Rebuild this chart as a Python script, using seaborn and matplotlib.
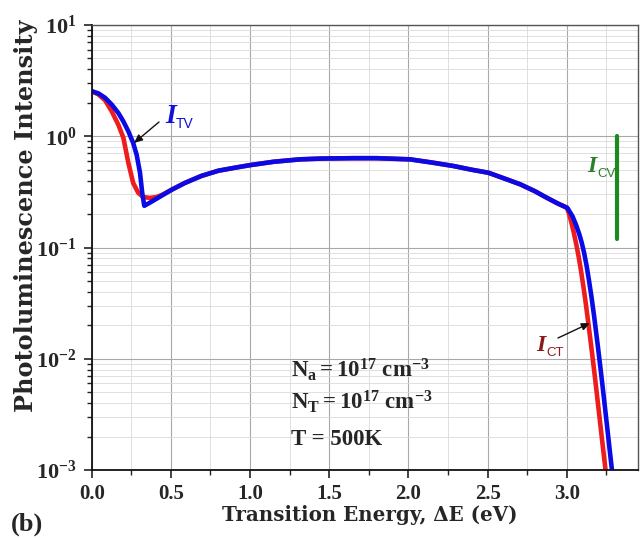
import matplotlib
matplotlib.use("Agg")
import matplotlib.pyplot as plt
import numpy as np
import pandas as pd
import seaborn as sns
from matplotlib.ticker import MultipleLocator, LogLocator, FixedLocator, FixedFormatter, NullFormatter

# ---------------- data ----------------
tv_energy = [0.0, 0.042, 0.084, 0.126, 0.168, 0.2, 0.231, 0.262, 0.284, 0.305,
             0.319, 0.332, 0.357, 0.42, 0.504, 0.588, 0.693, 0.8, 0.9, 1.0,
             1.15, 1.316, 1.45, 1.65, 1.8, 2.01, 2.15, 2.285, 2.4, 2.505,
             2.6, 2.706, 2.8, 2.874, 2.94, 3.005, 3.037, 3.06, 3.079, 3.095,
             3.11, 3.125, 3.14, 3.155, 3.173, 3.195, 3.215, 3.235, 3.255, 3.28, 3.30]
tv_intensity = [2.54, 2.43, 2.22, 1.93, 1.62, 1.36, 1.11, 0.87, 0.68, 0.47,
                0.31, 0.237, 0.248, 0.28, 0.33, 0.38, 0.44, 0.49, 0.52, 0.55,
                0.59, 0.62, 0.63, 0.635, 0.635, 0.62, 0.58, 0.54, 0.50, 0.47,
                0.42, 0.37, 0.32, 0.28, 0.25, 0.226, 0.19, 0.158, 0.132, 0.110,
                0.089, 0.069, 0.051, 0.037, 0.024, 0.0135, 0.0078, 0.0044, 0.00245, 0.00117, 0.00066]

ct_energy = [0.0, 0.042, 0.084, 0.126, 0.168, 0.2, 0.231, 0.262, 0.294, 0.326,
             0.368, 0.41, 0.45, 0.504, 0.588, 0.693, 0.8, 0.9, 1.0, 1.15,
             1.316, 1.45, 1.65, 1.8, 2.01, 2.15, 2.285, 2.4, 2.505, 2.6,
             2.706, 2.8, 2.874, 2.94, 3.0, 3.015, 3.03, 3.045, 3.06, 3.075,
             3.09, 3.105, 3.12, 3.14, 3.16, 3.18, 3.20, 3.22, 3.245, 3.265]
ct_intensity = [2.54, 2.38, 2.11, 1.68, 1.27, 0.97, 0.58, 0.38, 0.31, 0.284,
                0.279, 0.284, 0.30, 0.33, 0.38, 0.44, 0.49, 0.52, 0.55, 0.59,
                0.62, 0.63, 0.635, 0.635, 0.62, 0.58, 0.54, 0.50, 0.47, 0.42,
                0.37, 0.32, 0.28, 0.25, 0.229, 0.20, 0.166, 0.135, 0.107, 0.083,
                0.062, 0.0447, 0.0316, 0.019, 0.0112, 0.00646, 0.00363, 0.00204, 0.001, 0.00056]

cv_energy = [3.32, 3.32]
cv_intensity = [1.0, 0.12]

xtick_values = [0.0, 0.5, 1.0, 1.5, 2.0, 2.5, 3.0]
xtick_labels = ["0.0", "0.5", "1.0", "1.5", "2.0", "2.5", "3.0"]
ytick_values = [1e-3, 1e-2, 1e-1, 1e0, 1e1]
ytick_labels = [r"$\mathbf{10^{-3}}$", r"$\mathbf{10^{-2}}$", r"$\mathbf{10^{-1}}$",
                r"$\mathbf{10^{0}}$", r"$\mathbf{10^{1}}$"]

# ---------------- style ----------------
sns.set_style("ticks")
plt.rcParams["mathtext.fontset"] = "custom"
plt.rcParams["mathtext.rm"] = "Liberation Serif:bold"
plt.rcParams["mathtext.bf"] = "Liberation Serif:bold"
plt.rcParams["mathtext.it"] = "Liberation Serif:italic:bold"
plt.rcParams["font.family"] = ["Liberation Serif", "DejaVu Serif"]

W, H = 644, 538
def fp(x, y):
    return (x / W, 1 - y / H)

fig = plt.figure(figsize=(6.44, 5.38), dpi=100)
ax = fig.add_axes([91.7 / W, 1 - 470 / H, (638 - 91.7) / W, (470 - 25) / H])

df = pd.concat([
    pd.DataFrame({"energy": ct_energy, "intensity": ct_intensity, "transition": "CT"}),
    pd.DataFrame({"energy": tv_energy, "intensity": tv_intensity, "transition": "TV"}),
])
sns.lineplot(data=df, x="energy", y="intensity", hue="transition",
             hue_order=["CT", "TV"], palette={"CT": "#ee1c1c", "TV": "#0a0ae6"},
             sort=False, estimator=None, linewidth=3.3, legend=False, ax=ax)
ax.plot(cv_energy, cv_intensity, color="#1c8a1c", linewidth=3.0, solid_capstyle="round")

ax.set_yscale("log")
ax.set_xlim(0, 3.45)
ax.set_ylim(1e-3, 10)

ax.xaxis.set_major_locator(FixedLocator(xtick_values))
ax.xaxis.set_major_formatter(FixedFormatter(xtick_labels))
ax.xaxis.set_minor_locator(MultipleLocator(0.25))
ax.yaxis.set_major_locator(FixedLocator(ytick_values))
ax.yaxis.set_major_formatter(FixedFormatter(ytick_labels))
ax.yaxis.set_minor_locator(LogLocator(base=10, subs=np.arange(2, 10), numticks=20))
ax.yaxis.set_minor_formatter(NullFormatter())

ax.grid(which="major", color="#a8a8a8", linewidth=0.8)
ax.grid(which="minor", color="#dadada", linewidth=0.6)
ax.set_axisbelow(True)

ax.tick_params(which="major", direction="out", length=6, width=1.2, color="#222222")
ax.tick_params(which="minor", direction="out", length=3.5, width=1.0, color="#222222")
ax.tick_params(axis="x", which="major", pad=4, labelsize=15)
ax.tick_params(axis="y", which="major", pad=5, labelsize=16)
for lab in ax.get_xticklabels():
    lab.set_fontweight("bold")
    lab.set_fontfamily("Liberation Serif")

for side in ["left", "bottom"]:
    ax.spines[side].set_color("#111111")
    ax.spines[side].set_linewidth(1.3)
for side in ["top", "right"]:
    ax.spines[side].set_color("#555555")
    ax.spines[side].set_linewidth(1.0)

ax.set_xlabel("")
ax.set_ylabel("")

# axis labels
fig.text(*fp(370, 521), "Transition Energy, \u0394E (eV)", ha="center", va="baseline",
         fontsize=14.3, fontweight="bold", family="DejaVu Serif")
fig.text(*fp(26, 216), "Photoluminescence Intensity", ha="center", va="center",
         rotation=90, fontsize=17.3, fontweight="bold", family="DejaVu Serif")
fig.text(*fp(11, 531), "(b)", ha="left", va="baseline", fontsize=19,
         fontweight="bold", family="Liberation Serif")

# parameter block
fig.text(*fp(291, 377), r"$\mathbf{N_a = 10^{17}\ cm^{-3}}$", ha="left",
         va="baseline", fontsize=16.5)
fig.text(*fp(291, 409), r"$\mathbf{N_T = 10^{17}\ cm^{-3}}$", ha="left",
         va="baseline", fontsize=16.5)
fig.text(*fp(291, 445), "T = 500K", ha="left", va="baseline", fontsize=16.5,
         fontweight="bold", family="Liberation Serif")

# curve labels
def curve_label(x, y, sub, color, size, subsize, gap):
    fig.text(*fp(x, y), "I", ha="left", va="baseline", fontsize=size,
             fontweight="bold", fontstyle="italic", family="Liberation Serif", color=color)
    fig.text(*fp(x + gap, y + 5), sub, ha="left", va="baseline", fontsize=subsize,
             family="Liberation Sans", color=color)

curve_label(165, 123, "TV", "#1010dd", 20, 10, 11)
curve_label(536, 351, "CT", "#8b1a1a", 17, 9.5, 10)
curve_label(587, 172, "CV", "#2a7f2a", 17, 9.5, 10)

arrow = dict(arrowstyle="-|>,head_length=0.5,head_width=0.22", color="#111111", lw=1.0,
             shrinkA=0, shrinkB=0)
ax.annotate("", xy=fp(134, 143), xytext=fp(159, 122), xycoords="figure fraction",
            textcoords="figure fraction", arrowprops=arrow)
ax.annotate("", xy=fp(590, 323), xytext=fp(558, 338), xycoords="figure fraction",
            textcoords="figure fraction", arrowprops=arrow)

fig.savefig("out.png", dpi=100)
